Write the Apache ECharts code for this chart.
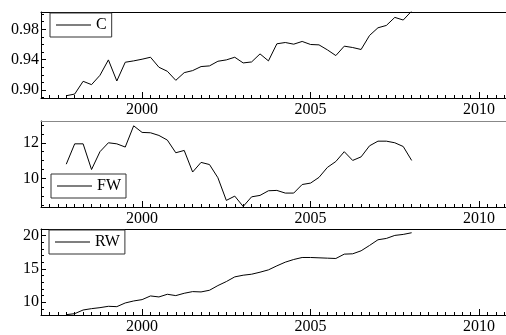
<!DOCTYPE html>
<html>
<head>
<meta charset="utf-8">
<script src="https://cdn.jsdelivr.net/npm/echarts@6/dist/echarts.min.js"></script>
<style>html,body{margin:0;padding:0;background:#fff}#c{width:506px;height:335px}</style>
</head>
<body>
<div id="c"></div>
<script>
// Quarterly dates (decimal years)
var dates = [1997.75,1998.0,1998.25,1998.5,1998.75,1999.0,1999.25,1999.5,1999.75,2000.0,
  2000.25,2000.5,2000.75,2001.0,2001.25,2001.5,2001.75,2002.0,2002.25,2002.5,
  2002.75,2003.0,2003.25,2003.5,2003.75,2004.0,2004.25,2004.5,2004.75,2005.0,
  2005.25,2005.5,2005.75,2006.0,2006.25,2006.5,2006.75,2007.0,2007.25,2007.5,
  2007.75,2008.0];
var seriesC = [0.8925,0.8947,0.9115,0.9071,0.9194,0.9397,0.9119,0.9366,0.9384,0.9406,
  0.9432,0.9300,0.9247,0.9128,0.9229,0.9256,0.9309,0.9318,0.9379,0.9397,
  0.9432,0.9357,0.9370,0.9476,0.9384,0.9609,0.9626,0.9604,0.9640,0.9600,
  0.9595,0.9529,0.9454,0.9578,0.9560,0.9534,0.9719,0.9820,0.9851,0.9957,
  0.9922,1.0040];
var seriesFW = [10.80,11.94,11.94,10.50,11.50,12.00,11.94,11.76,12.95,12.58,
  12.56,12.41,12.15,11.44,11.57,10.36,10.90,10.78,10.04,8.77,
  9.01,8.43,8.97,9.05,9.31,9.33,9.18,9.18,9.66,9.74,
  10.06,10.62,10.95,11.50,11.01,11.21,11.83,12.09,12.09,12.00,
  11.79,11.01];
var seriesRW = [8.15,8.30,8.85,9.05,9.20,9.40,9.35,9.90,10.20,10.40,
  10.95,10.80,11.20,11.00,11.35,11.60,11.55,11.80,12.50,13.10,
  13.80,14.05,14.20,14.50,14.85,15.45,16.00,16.40,16.70,16.70,
  16.65,16.60,16.55,17.20,17.25,17.70,18.50,19.35,19.55,20.00,
  20.15,20.40];
var xTickLabels = [2000, 2005, 2010];
var cTickLabels = [0.90, 0.94, 0.98];
var fwTickLabels = [10, 12];
var rwTickLabels = [10, 15, 20];

function pairs(vals){ return vals.map(function(v,i){ return [dates[i], v]; }); }
function range(a,b,s){ var r=[]; for (var v=a; v<=b+1e-9; v+=s) r.push(Math.round(v*10000)/10000); return r; }

var FONT = 'Liberation Serif';
var xMin = 1997, xMax = 2010.8;
var panels = [
  {name:'C', data:seriesC, top:12, height:86, min:0.8895, max:1.0028, labels:cTickLabels, minor:range(0.89,1.0,0.01), fmt:function(v){return v.toFixed(2);}, topColor:'#000', leg:{left:50, top:13}},
  {name:'FW', data:seriesFW, top:121, height:86, min:8.4, max:13.22, labels:fwTickLabels, minor:range(8.5,13,0.5), fmt:function(v){return String(v);}, topColor:'#888', leg:{left:51, top:174}},
  {name:'RW', data:seriesRW, top:229, height:86, min:8.1, max:20.96, labels:rwTickLabels, minor:range(9,20,1), fmt:function(v){return String(v);}, topColor:'#000', leg:{left:49, top:230}}
];

var grid=[], xAxis=[], yAxis=[], series=[], legend=[];
panels.forEach(function(p, g){
  grid.push({left:41, right:0, top:p.top, height:p.height, containLabel:false});
  xAxis.push({type:'value', gridIndex:g, min:xMin, max:xMax, position:'bottom',
    axisLine:{show:true, onZero:false, lineStyle:{color:'#000', width:1}},
    axisTick:{show:true, inside:true, length:6, customValues:xTickLabels, lineStyle:{color:'#000'}},
    axisLabel:{show:true, customValues:xTickLabels, margin:4, color:'#000', fontFamily:FONT, fontSize:16, formatter:function(v){return String(v);}},
    splitLine:{show:false}});
  xAxis.push({type:'value', gridIndex:g, min:xMin, max:xMax, position:'bottom',
    axisLine:{show:false, onZero:false},
    axisTick:{show:true, inside:true, length:3, customValues:range(1997.25,2010.75,0.25), lineStyle:{color:'#000'}},
    axisLabel:{show:false}, splitLine:{show:false}});
  xAxis.push({type:'value', gridIndex:g, min:xMin, max:xMax, position:'top',
    axisLine:{show:true, onZero:false, lineStyle:{color:p.topColor, width:1}},
    axisTick:{show:false}, axisLabel:{show:false}, splitLine:{show:false}});
  yAxis.push({type:'value', gridIndex:g, min:p.min, max:p.max, position:'left',
    axisLine:{show:true, onZero:false, lineStyle:{color:'#000', width:1}},
    axisTick:{show:true, inside:true, length:5, customValues:p.labels, lineStyle:{color:'#000'}},
    axisLabel:{show:true, customValues:p.labels, margin:2, color:'#000', fontFamily:FONT, fontSize:16, formatter:p.fmt},
    splitLine:{show:false}});
  yAxis.push({type:'value', gridIndex:g, min:p.min, max:p.max, position:'left',
    axisLine:{show:false, onZero:false},
    axisTick:{show:true, inside:true, length:3, customValues:p.minor, lineStyle:{color:'#000'}},
    axisLabel:{show:false}, splitLine:{show:false}});
  series.push({type:'line', name:p.name, xAxisIndex:3*g, yAxisIndex:2*g, data:pairs(p.data),
    symbol:'none', showSymbol:false, lineStyle:{color:'#000', width:1}, itemStyle:{color:'#000'}, animation:false, clip:true, z:2});
  legend.push({data:[{name:p.name, icon:'rect'}], left:p.leg.left, top:p.leg.top, orient:'horizontal',
    padding:[4,5,4,6], itemWidth:35, itemHeight:1, itemStyle:{color:'#000', borderWidth:0}, borderColor:'#333', borderWidth:1, backgroundColor:'#fff',
    textStyle:{fontFamily:FONT, fontSize:16, color:'#000'}, selectedMode:false, z:10});
});

var chart = echarts.init(document.getElementById('c'), null, {renderer:'canvas'});
chart.setOption({animation:false, backgroundColor:'#fff', textStyle:{fontFamily:FONT, fontSize:16, color:'#000'},
  grid:grid, xAxis:xAxis, yAxis:yAxis, series:series, legend:legend});
</script>
</body>
</html>
